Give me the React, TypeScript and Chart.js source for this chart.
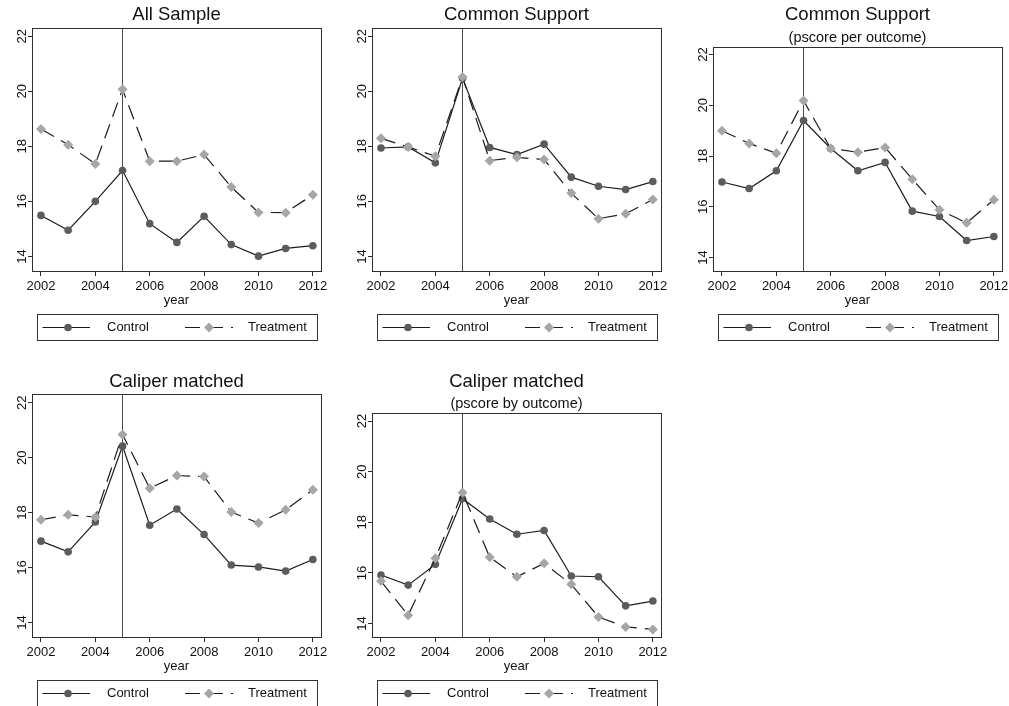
import React, { useEffect, useRef } from 'react';
import { Chart, registerables } from 'chart.js';

Chart.register(...registerables);

// ---------------- data ----------------
const YEARS = [2002, 2003, 2004, 2005, 2006, 2007, 2008, 2009, 2010, 2011, 2012];
const X_TICKS = [2002, 2004, 2006, 2008, 2010, 2012];
const Y_TICKS = [14, 16, 18, 20, 22];
const EVENT_YEAR = 2005;
const SERIES_NAMES = ['Control', 'Treatment'];
const X_TITLE = 'year';

const ALL_SAMPLE_CONTROL = [15.49, 14.95, 16.0, 17.12, 15.19, 14.51, 15.46, 14.43, 14.01, 14.29, 14.39];
const ALL_SAMPLE_TREATMENT = [18.63, 18.06, 17.36, 20.07, 17.46, 17.46, 17.7, 16.52, 15.6, 15.59, 16.24];

const COMMON_CONTROL = [17.94, 17.98, 17.4, 20.47, 17.96, 17.7, 18.08, 16.88, 16.55, 16.43, 16.72];
const COMMON_TREATMENT = [18.29, 17.98, 17.64, 20.52, 17.48, 17.6, 17.52, 16.3, 15.37, 15.55, 16.07];

const COMMON_PER_OUTCOME_CONTROL = [16.98, 16.72, 17.42, 19.4, 18.3, 17.42, 17.75, 15.83, 15.62, 14.67, 14.83];
const COMMON_PER_OUTCOME_TREATMENT = [19.0, 18.5, 18.11, 20.19, 18.3, 18.15, 18.34, 17.09, 15.88, 15.37, 16.28];

const CALIPER_CONTROL = [16.96, 16.57, 17.66, 20.42, 17.54, 18.13, 17.2, 16.09, 16.02, 15.87, 16.29];
const CALIPER_TREATMENT = [17.74, 17.92, 17.84, 20.84, 18.89, 19.35, 19.31, 18.02, 17.62, 18.1, 18.83];

const CALIPER_BY_OUTCOME_CONTROL = [15.92, 15.52, 16.34, 18.93, 18.13, 17.53, 17.68, 15.88, 15.85, 14.7, 14.89];
const CALIPER_BY_OUTCOME_TREATMENT = [15.68, 14.33, 16.58, 19.18, 16.62, 15.85, 16.38, 15.55, 14.26, 13.87, 13.77];

const TITLES = ['All Sample', 'Common Support', 'Common Support', 'Caliper matched', 'Caliper matched'];
const SUBTITLES = ['', '', '(pscore per outcome)', '', '(pscore by outcome)'];

// ---------------- layout / style ----------------
const W = 1009;
const H = 706;
const FONT = "'Liberation Sans', Arial, Helvetica, sans-serif";
const TEXT = '#111';
const FRAME = '#2e2e2e';
const VLINE = '#474747';
const LINE = '#1c1c1c';
const CTRL_FILL = '#5c5c5c';
const TREAT_FILL = '#a6a6a6';
const DASH = [15, 8];
const X_MIN = 2001.67;
const X_MAX = 2012.3;
const Y_MIN = 13.47;
const Y_MAX = 22.3;
const XAXIS_H = 37;
const YAXIS_W = 24;
const SIDE = 60; // canvas extends this far left/right of the plot box
const TITLE_SIZE = 18.5;
const SUB_SIZE = 14.5;

const BOXES = [
  { left: 32, top: 28, right: 321, bottom: 271 },
  { left: 372, top: 28, right: 661, bottom: 271 },
  { left: 713, top: 47, right: 1002, bottom: 271 },
  { left: 32, top: 394.5, right: 321, bottom: 637 },
  { left: 372, top: 413.5, right: 661, bottom: 637 },
];

const SERIES = [
  [ALL_SAMPLE_CONTROL, ALL_SAMPLE_TREATMENT],
  [COMMON_CONTROL, COMMON_TREATMENT],
  [COMMON_PER_OUTCOME_CONTROL, COMMON_PER_OUTCOME_TREATMENT],
  [CALIPER_CONTROL, CALIPER_TREATMENT],
  [CALIPER_BY_OUTCOME_CONTROL, CALIPER_BY_OUTCOME_TREATMENT],
];

const al = (v: number) => Math.round(v - 0.5) + 0.5;

function drawCircle(ctx: CanvasRenderingContext2D, x: number, y: number, r: number, fill: string) {
  ctx.beginPath();
  ctx.arc(x, y, r, 0, Math.PI * 2);
  ctx.fillStyle = fill;
  ctx.fill();
}
function drawDiamond(ctx: CanvasRenderingContext2D, x: number, y: number, r: number, fill: string) {
  ctx.beginPath();
  ctx.moveTo(x, y - r);
  ctx.lineTo(x + r, y);
  ctx.lineTo(x, y + r);
  ctx.lineTo(x - r, y);
  ctx.closePath();
  ctx.fillStyle = fill;
  ctx.fill();
}

const framePlugin = {
  id: 'stataFrame',
  beforeDatasetsDraw(chart: any) {
    const { ctx, chartArea } = chart;
    const xs = chart.scales.x;
    const px = al(xs.getPixelForValue(EVENT_YEAR));
    ctx.save();
    ctx.strokeStyle = VLINE;
    ctx.lineWidth = 1;
    ctx.beginPath();
    ctx.moveTo(px, chartArea.top);
    ctx.lineTo(px, chartArea.bottom);
    ctx.stroke();
    ctx.restore();
  },
  afterDraw(chart: any) {
    const { ctx, chartArea } = chart;
    const { left, top, right, bottom } = chartArea;
    ctx.save();
    // plot frame
    ctx.strokeStyle = FRAME;
    ctx.lineWidth = 1;
    ctx.setLineDash([]);
    ctx.strokeRect(al(left), al(top), al(right) - al(left), al(bottom) - al(top));

    // legend
    const lw = 280;
    const lh = 26;
    const lx = Math.round((left + right) / 2 - lw / 2);
    const ly = Math.round(bottom + 42.5);
    ctx.strokeStyle = '#333';
    ctx.strokeRect(lx + 0.5, ly + 0.5, lw, lh);
    const cy = ly + lh / 2 + 0.5;
    const ds = chart.data.datasets;

    // control sample
    ctx.strokeStyle = LINE;
    ctx.lineWidth = 1.2;
    ctx.beginPath();
    ctx.moveTo(lx + 5.5, cy);
    ctx.lineTo(lx + 53, cy);
    ctx.stroke();
    drawCircle(ctx, lx + 31, cy, 3.8, CTRL_FILL);

    // treatment sample
    ctx.setLineDash(DASH);
    ctx.beginPath();
    ctx.moveTo(lx + 148, cy);
    ctx.lineTo(lx + 196, cy);
    ctx.stroke();
    ctx.setLineDash([]);
    drawDiamond(ctx, lx + 172, cy, 5, TREAT_FILL);

    ctx.fillStyle = TEXT;
    ctx.font = `13px ${FONT}`;
    ctx.textAlign = 'left';
    ctx.textBaseline = 'middle';
    ctx.fillText(ds[0].label, lx + 70, cy);
    ctx.fillText(ds[1].label, lx + 211, cy);
    ctx.restore();
  },
};

function makeConfig(i: number) {
  const box = BOXES[i];
  const hasSub = SUBTITLES[i] !== '';
  const tlh = TITLE_SIZE * 1.2;
  const slh = SUB_SIZE * 1.2;
  const padTop = hasSub ? box.top - 31.7 - tlh / 2 : box.top - 12.7 - tlh / 2;
  const titlePadBottom = hasSub ? 31.7 - 9.2 - tlh / 2 - slh / 2 : 12.7 - tlh / 2;
  const subPadBottom = hasSub ? box.top - (padTop + tlh + titlePadBottom + slh) : 0;
  const [ctrl, treat] = SERIES[i];
  return {
    type: 'line',
    data: {
      datasets: [
        {
          label: SERIES_NAMES[0],
          data: YEARS.map((x, k) => ({ x, y: ctrl[k] })),
          borderColor: LINE,
          borderWidth: 1.2,
          tension: 0,
          pointStyle: 'circle',
          pointRadius: 3.8,
          pointBackgroundColor: CTRL_FILL,
          pointBorderColor: CTRL_FILL,
          pointBorderWidth: 0,
          order: 1,
        },
        {
          label: SERIES_NAMES[1],
          data: YEARS.map((x, k) => ({ x, y: treat[k] })),
          borderColor: LINE,
          borderWidth: 1.2,
          borderDash: DASH,
          tension: 0,
          pointStyle: 'rectRot',
          pointRadius: 5,
          pointBackgroundColor: TREAT_FILL,
          pointBorderColor: TREAT_FILL,
          pointBorderWidth: 0,
          order: 0,
        },
      ],
    },
    options: {
      responsive: false,
      animation: false,
      events: [],
      layout: {
        padding: {
          left: SIDE - YAXIS_W,
          right: SIDE - YAXIS_W,
          top: padTop,
          bottom: H - box.bottom - XAXIS_H,
        },
      },
      plugins: {
        legend: { display: false },
        tooltip: { enabled: false },
        title: {
          display: true,
          text: TITLES[i],
          color: TEXT,
          font: { family: FONT, size: TITLE_SIZE, weight: 'normal', lineHeight: 1.2 },
          padding: { top: 0, bottom: titlePadBottom },
        },
        subtitle: {
          display: hasSub,
          text: SUBTITLES[i],
          color: TEXT,
          font: { family: FONT, size: SUB_SIZE, weight: 'normal', lineHeight: 1.2 },
          padding: { top: 0, bottom: subPadBottom },
        },
      },
      scales: {
        x: {
          type: 'linear',
          min: X_MIN,
          max: X_MAX,
          afterBuildTicks: (axis: any) => {
            axis.ticks = X_TICKS.map((value) => ({ value }));
          },
          afterFit: (s: any) => {
            s.height = XAXIS_H;
            s.paddingLeft = 0;
            s.paddingRight = 0;
          },
          ticks: {
            color: TEXT,
            font: { family: FONT, size: 13 },
            padding: 3,
            maxRotation: 0,
            minRotation: 0,
            autoSkip: false,
            callback: (v: any) => String(v),
          },
          grid: { display: true, drawOnChartArea: false, drawTicks: true, tickLength: 5, color: FRAME },
          border: { display: false },
          title: {
            display: true,
            text: X_TITLE,
            color: TEXT,
            font: { family: FONT, size: 13 },
            padding: { top: 0, bottom: 0 },
          },
        },
        y: {
          type: 'linear',
          position: 'left',
          min: Y_MIN,
          max: Y_MAX,
          afterBuildTicks: (axis: any) => {
            axis.ticks = Y_TICKS.map((value) => ({ value }));
          },
          afterFit: (s: any) => {
            s.width = YAXIS_W;
            s.paddingTop = 0;
            s.paddingBottom = 0;
          },
          ticks: {
            color: TEXT,
            font: { family: FONT, size: 13 },
            minRotation: 90,
            maxRotation: 90,
            crossAlign: 'center',
            padding: -2,
            autoSkip: false,
            callback: (v: any) => String(v),
          },
          grid: { display: true, drawOnChartArea: false, drawTicks: true, tickLength: 4, color: FRAME },
          border: { display: false },
        },
        yMirror: {
          type: 'linear',
          position: 'right',
          display: true,
          min: Y_MIN,
          max: Y_MAX,
          afterFit: (s: any) => {
            s.width = YAXIS_W;
            s.paddingTop = 0;
            s.paddingBottom = 0;
          },
          ticks: { display: false },
          grid: { display: false },
          border: { display: false },
        },
      },
    },
    plugins: [framePlugin],
  } as any;
}

function Panel({ index }: { index: number }) {
  const ref = useRef<HTMLCanvasElement | null>(null);
  const box = BOXES[index];
  const cw = box.right - box.left + 2 * SIDE;
  useEffect(() => {
    if (!ref.current) return;
    const chart = new Chart(ref.current, makeConfig(index));
    return () => chart.destroy();
  }, [index]);
  return (
    <canvas
      ref={ref}
      width={cw}
      height={H}
      style={{ position: 'absolute', left: box.left - SIDE, top: 0, width: cw, height: H }}
    />
  );
}

export default function App() {
  return (
    <div style={{ position: 'absolute', left: 0, top: 0, width: W, height: H, background: '#fff', overflow: 'hidden' }}>
      {TITLES.map((_, i) => (
        <Panel key={i} index={i} />
      ))}
    </div>
  );
}
